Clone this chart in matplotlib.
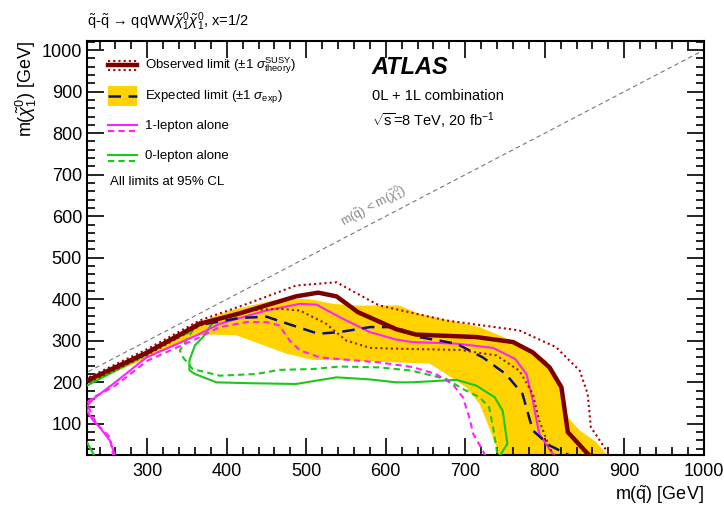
import numpy as np
import matplotlib
matplotlib.use("Agg")
import matplotlib.pyplot as plt
from matplotlib.ticker import MultipleLocator

plt.rcParams['font.family'] = ['Liberation Sans', 'DejaVu Sans']
plt.rcParams['mathtext.fontset'] = 'custom'
plt.rcParams['mathtext.rm'] = 'Liberation Sans'
plt.rcParams['mathtext.it'] = 'Liberation Sans:italic'
plt.rcParams['mathtext.bf'] = 'Liberation Sans:bold'

# observed limit
obs_x = [215, 224, 300, 366, 416, 487, 515, 538, 565, 613, 638, 714, 760, 785, 806, 821, 829, 854, 860]
obs_y = [196, 204, 272, 341, 366, 407, 416, 407, 369, 328, 315, 309, 297, 272, 236, 188, 80, 28, 20]
obs_up_x = [215, 224, 300, 366, 430, 487, 538, 580, 592, 676, 768, 814, 844, 854, 858, 879, 882]
obs_up_y = [202, 210, 280, 349, 392, 433, 441, 397, 385, 349, 325, 285, 228, 172, 92, 32, 20]
obs_dn_x = [215, 224, 300, 366, 425, 466, 492, 525, 550, 580, 613, 693, 739, 768, 785, 793, 806, 812]
obs_dn_y = [190, 198, 266, 336, 373, 377, 373, 341, 301, 283, 281, 278, 265, 228, 172, 108, 44, 20]

# expected limit and +-1 sigma band
exp_x = [215, 224, 300, 366, 416, 450, 483, 515, 542, 580, 613, 642, 689, 722, 751, 772, 785, 806, 827, 835]
exp_y = [195, 203, 270, 338, 355, 358, 337, 317, 321, 333, 333, 309, 293, 260, 220, 172, 84, 48, 28, 20]
band_up_x = [215, 224, 300, 366, 404, 458, 492, 508, 533, 563, 617, 642, 718, 768, 802, 821, 829, 844, 865, 877, 882]
band_up_y = [200, 208, 276, 345, 373, 397, 401, 399, 389, 385, 385, 365, 333, 293, 253, 188, 116, 84, 56, 28, 20]
band_dn_x = [215, 224, 300, 340, 362, 382, 412, 441, 475, 508, 550, 613, 655, 676, 701, 718, 730, 739, 743]
band_dn_y = [188, 196, 258, 292, 313, 315, 313, 293, 269, 254, 253, 248, 245, 220, 188, 148, 92, 44, 20]

# 1-lepton alone
l1_x = [261, 259, 253, 240, 232, 226, 223, 232, 257, 299, 362, 391, 450, 492, 513, 542, 580, 613, 633, 689, 735, 763, 777, 785, 793, 810, 814]
l1_y = [20, 25, 60, 92, 108, 125, 140, 160, 196, 260, 313, 341, 373, 389, 387, 357, 321, 303, 297, 293, 283, 256, 220, 156, 76, 28, 20]
l1e_x = [258, 257, 253, 236, 227, 224, 232, 257, 300, 362, 391, 425, 450, 466, 479, 492, 517, 559, 592, 633, 663, 684, 697, 705, 710, 722, 726]
l1e_y = [20, 24, 68, 100, 136, 150, 164, 188, 252, 305, 333, 345, 345, 337, 301, 277, 260, 253, 248, 237, 220, 196, 164, 116, 76, 36, 20]

# 0-lepton alone
l0_x = [215, 224, 300, 362, 366, 382, 370, 360, 353, 353, 360, 387, 425, 487, 538, 580, 613, 633, 689, 714, 737, 747, 753, 745, 742]
l0_y = [184, 192, 268, 341, 345, 343, 309, 289, 253, 229, 220, 200, 198, 196, 212, 207, 200, 200, 206, 192, 164, 132, 52, 28, 20]
l0e_x = [215, 224, 300, 357, 341, 345, 357, 391, 437, 466, 508, 542, 592, 633, 676, 697, 718, 730, 735, 739, 741]
l0e_y = [190, 198, 270, 325, 277, 260, 232, 216, 220, 230, 232, 238, 236, 228, 208, 184, 164, 140, 92, 44, 20]
l0c_x = [218, 224, 232, 234]
l0c_y = [70, 56, 28, 20]

diag = [200, 1100]

fig = plt.figure(figsize=(7.24, 5.07), dpi=100)
ax = fig.add_axes([0.120, 0.1026, 0.852, 0.8165])

ax.fill(np.r_[band_up_x, band_dn_x[::-1]], np.r_[band_up_y, band_dn_y[::-1]],
        color='#ffd200', lw=0, zorder=1)
ax.plot(diag, diag, color='#777777', ls=(0, (4, 3)), lw=0.8, zorder=1)

ax.plot(l0_x, l0_y, color='#19c819', lw=1.5, zorder=3)
ax.plot(l0c_x, l0c_y, color='#19c819', lw=1.5, zorder=3)
ax.plot(l0e_x, l0e_y, color='#19c819', lw=1.5, ls=(0, (3, 2)), zorder=3)
ax.plot(l1_x, l1_y, color='#ff22ff', lw=1.5, zorder=3)
ax.plot(l1e_x, l1e_y, color='#ff22ff', lw=1.5, ls=(0, (3, 2)), zorder=3)
ax.plot(exp_x, exp_y, color='#10107a', lw=1.8, ls=(0, (5, 3)), zorder=4)
ax.plot(obs_up_x, obs_up_y, color='#b00000', lw=1.5, ls=(0, (1, 1.5)), zorder=4)
ax.plot(obs_dn_x, obs_dn_y, color='#9a2000', lw=1.5, ls=(0, (1, 1.5)), zorder=4)
ax.plot(obs_x, obs_y, color='#7a0000', lw=3.2, zorder=5)

ax.set_xlim(224, 1000)
ax.set_ylim(25, 1022)
ax.xaxis.set_major_locator(MultipleLocator(100))
ax.xaxis.set_minor_locator(MultipleLocator(20))
ax.yaxis.set_major_locator(MultipleLocator(100))
ax.yaxis.set_minor_locator(MultipleLocator(20))
ax.tick_params(which='both', direction='in', top=True, right=True, labelsize=13, width=1.2)
ax.tick_params(which='major', length=12)
ax.tick_params(which='minor', length=6)
ax.tick_params(axis='x', pad=6)
for s in ax.spines.values():
    s.set_linewidth(1.5)

ax.set_xlabel(r"m($\tilde{\mathrm{q}}$) [GeV]", fontsize=13, loc='right', labelpad=2)
ax.set_ylabel(r"m($\tilde{\chi}^{0}_{1}$) [GeV]", fontsize=13, loc='top', labelpad=2)

fig.text(0.120, 0.957, r"$\tilde{\mathrm{q}}$-$\tilde{\mathrm{q}}$ → qqWW$\tilde{\chi}^{0}_{1}\tilde{\chi}^{0}_{1}$, x=1/2",
         fontsize=10.5, ha='left', va='center')

ax.text(585, 624, r"m($\tilde{\mathrm{q}}$) < m($\tilde{\chi}^{0}_{1}$)", color='#888888', fontsize=9,
        rotation=28, ha='center', va='center', rotation_mode='anchor')

# ATLAS labels
ax.text(0.461, 0.935, "ATLAS", transform=ax.transAxes, fontsize=17, fontweight='bold',
        fontstyle='italic', ha='left', va='center')
ax.text(0.463, 0.867, "0L + 1L combination", transform=ax.transAxes, fontsize=10.5, ha='left', va='center')
ax.text(0.463, 0.806, r"$\sqrt{\mathrm{s}}$=8 TeV, 20 fb$^{-1}$", transform=ax.transAxes, fontsize=10.5,
        ha='left', va='center')

# legend (drawn by hand)
def fx(px):
    return (px - 87) / 617.0

def fy(py):
    return (455 - py) / 414.0

hx = [fx(108), fx(137)]
tr = ax.transAxes
ax.plot(hx, [fy(65)] * 2, transform=tr, color='#7a0000', lw=3.2)
ax.plot(hx, [fy(60.5)] * 2, transform=tr, color='#b00000', lw=1.5, ls=(0, (1, 1.5)))
ax.plot(hx, [fy(69.5)] * 2, transform=tr, color='#b00000', lw=1.5, ls=(0, (1, 1.5)))
ax.add_patch(plt.Rectangle((fx(108), fy(106)), fx(137) - fx(108), fy(86) - fy(106),
                           transform=tr, color='#ffd200', lw=0))
ax.plot(hx, [fy(96)] * 2, transform=tr, color='#10107a', lw=1.8, ls=(0, (5, 3)))
ax.plot(hx, [fy(125)] * 2, transform=tr, color='#ff22ff', lw=1.5)
ax.plot(hx, [fy(131)] * 2, transform=tr, color='#ff22ff', lw=1.5, ls=(0, (3, 2)))
ax.plot(hx, [fy(155)] * 2, transform=tr, color='#19c819', lw=1.5)
ax.plot(hx, [fy(161)] * 2, transform=tr, color='#19c819', lw=1.5, ls=(0, (3, 2)))

ax.text(fx(145), fy(66), r"Observed limit ($\pm$1 $\sigma^{\mathrm{SUSY}}_{\mathrm{theory}}$)", transform=tr,
        fontsize=9.5, ha='left', va='center')
ax.text(fx(145), fy(96), r"Expected limit ($\pm$1 $\sigma_{\mathrm{exp}}$)", transform=tr,
        fontsize=9.5, ha='left', va='center')
ax.text(fx(145), fy(126), "1-lepton alone", transform=tr, fontsize=9.5, ha='left', va='center')
ax.text(fx(145), fy(156), "0-lepton alone", transform=tr, fontsize=9.5, ha='left', va='center')
ax.text(fx(110), fy(182), "All limits at 95% CL", transform=tr, fontsize=9.5, ha='left', va='center')

fig.savefig("out.png", dpi=100)
